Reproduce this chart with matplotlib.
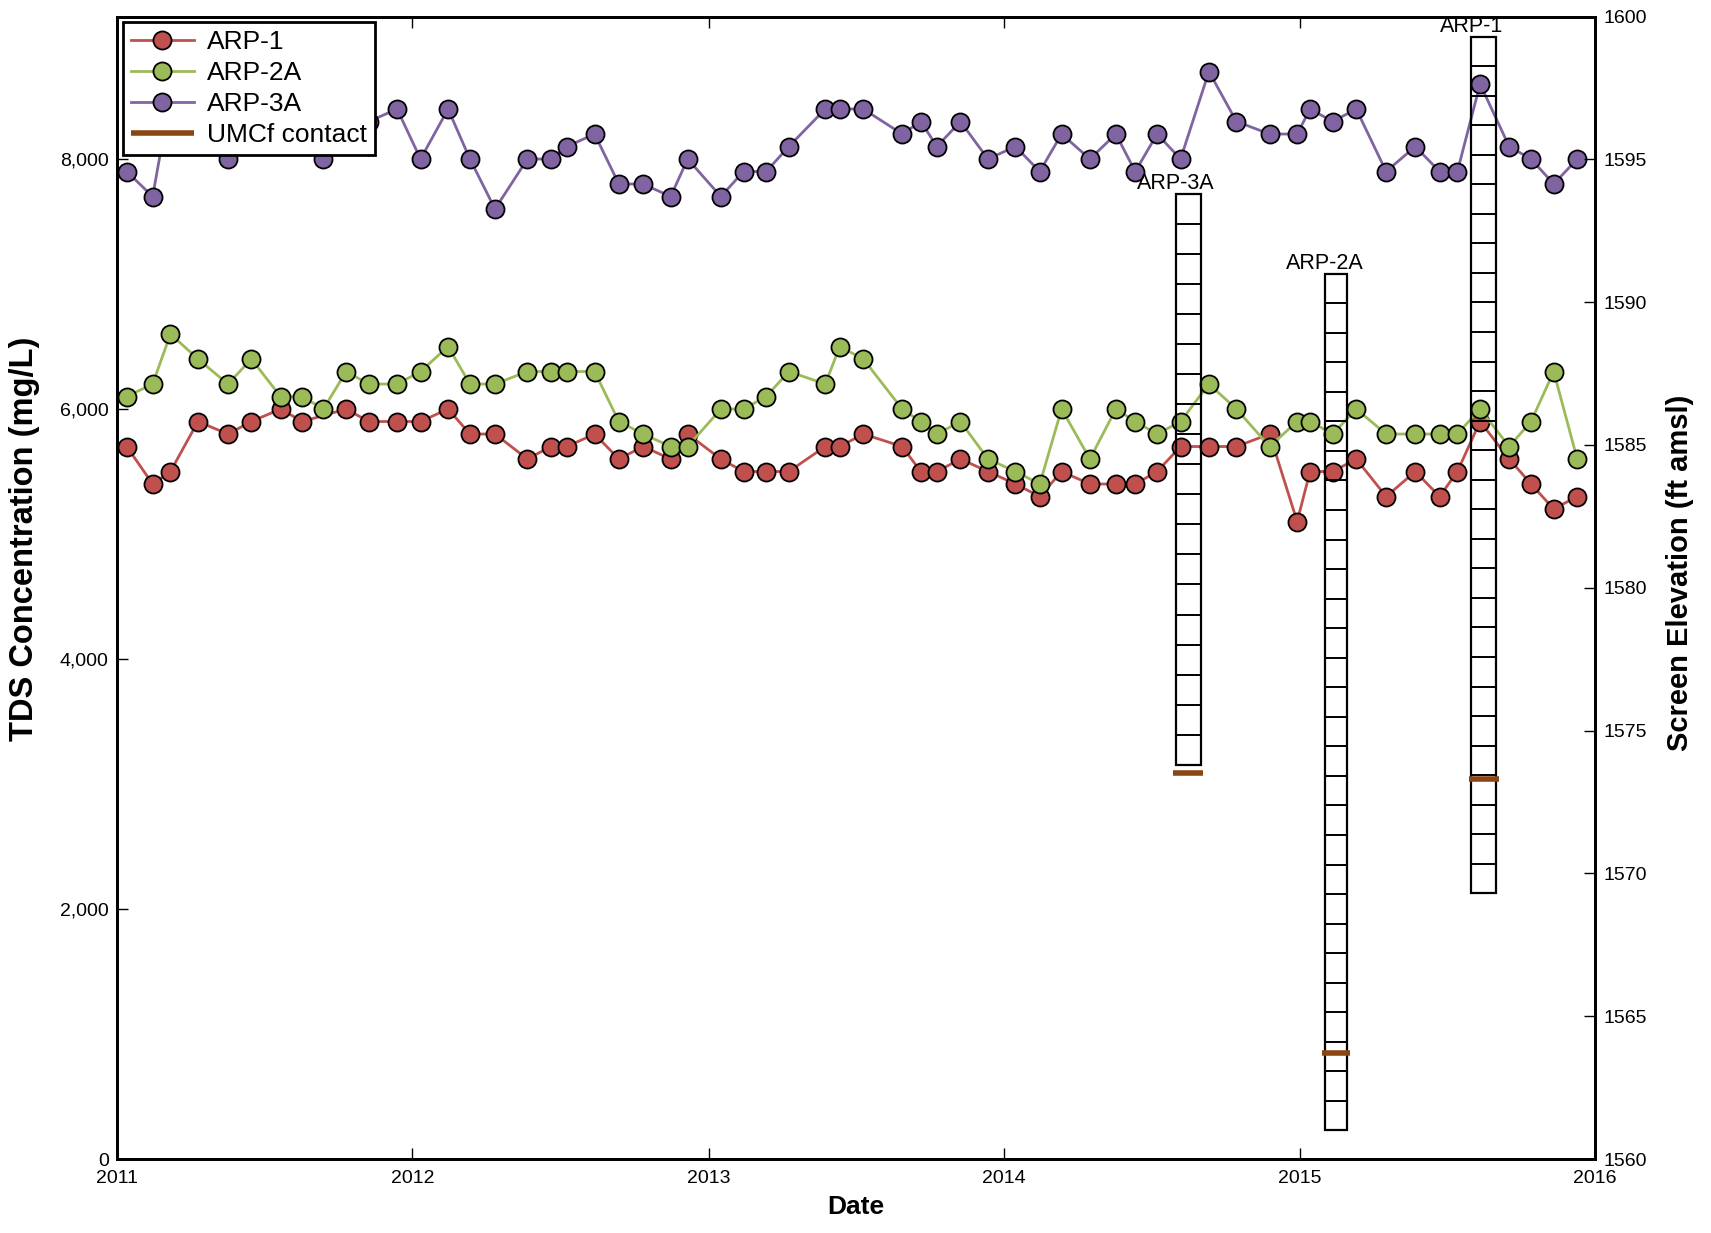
import matplotlib

matplotlib.use("Agg")
import matplotlib.dates as mdates
import matplotlib.pyplot as plt
import numpy as np
import pandas as pd
from matplotlib.patches import Rectangle
from matplotlib.ticker import FuncFormatter, MultipleLocator

plt.rcParams["font.family"] = ["Liberation Sans", "DejaVu Sans"]

# sampling dates (ARP-1 has no Sep 2011 sample)
DATES_ALL = [
    "2011-01-13", "2011-02-14", "2011-03-08", "2011-04-11", "2011-05-18", "2011-06-16",
    "2011-07-22", "2011-08-18", "2011-09-13", "2011-10-11", "2011-11-08", "2011-12-13",
    "2012-01-11", "2012-02-14", "2012-03-12", "2012-04-12", "2012-05-22", "2012-06-20",
    "2012-07-10", "2012-08-13", "2012-09-12", "2012-10-12", "2012-11-15", "2012-12-06",
    "2013-01-16", "2013-02-13", "2013-03-13", "2013-04-10", "2013-05-25", "2013-06-12",
    "2013-07-11", "2013-08-28", "2013-09-20", "2013-10-10", "2013-11-08", "2013-12-12",
    "2014-01-15", "2014-02-14", "2014-03-13", "2014-04-17", "2014-05-19", "2014-06-12",
    "2014-07-09", "2014-08-07", "2014-09-11", "2014-10-15", "2014-11-25", "2014-12-29",
    "2015-01-14", "2015-02-11", "2015-03-12", "2015-04-18", "2015-05-24", "2015-06-23",
    "2015-07-15", "2015-08-12", "2015-09-17", "2015-10-14", "2015-11-11", "2015-12-10",
]
DATES_ARP1 = [d for d in DATES_ALL if d != "2011-09-13"]

ARP1 = [
    5700, 5400, 5500, 5900, 5800, 5900, 6000, 5900, 6000, 5900, 5900,
    5900, 6000, 5800, 5800, 5600, 5700, 5700, 5800, 5600, 5700, 5600, 5800,
    5600, 5500, 5500, 5500, 5700, 5700, 5800, 5700, 5500, 5500, 5600, 5500,
    5400, 5300, 5500, 5400, 5400, 5400, 5500, 5700, 5700, 5700, 5800, 5100,
    5500, 5500, 5600, 5300, 5500, 5300, 5500, 5900, 5600, 5400, 5200, 5300,
]
ARP2A = [
    6100, 6200, 6600, 6400, 6200, 6400, 6100, 6100, 6000, 6300, 6200, 6200,
    6300, 6500, 6200, 6200, 6300, 6300, 6300, 6300, 5900, 5800, 5700, 5700,
    6000, 6000, 6100, 6300, 6200, 6500, 6400, 6000, 5900, 5800, 5900, 5600,
    5500, 5400, 6000, 5600, 6000, 5900, 5800, 5900, 6200, 6000, 5700, 5900,
    5900, 5800, 6000, 5800, 5800, 5800, 5800, 6000, 5700, 5900, 6300, 5600,
]
ARP3A = [
    7900, 7700, 8500, 8300, 8000, 8200, 8400, 8300, 8000, 8200, 8300, 8400,
    8000, 8400, 8000, 7600, 8000, 8000, 8100, 8200, 7800, 7800, 7700, 8000,
    7700, 7900, 7900, 8100, 8400, 8400, 8400, 8200, 8300, 8100, 8300, 8000,
    8100, 7900, 8200, 8000, 8200, 7900, 8200, 8000, 8700, 8300, 8200, 8200,
    8400, 8300, 8400, 7900, 8100, 7900, 7900, 8600, 8100, 8000, 7800, 8000,
]

# well screens (ft amsl)
WELLS = ["ARP-3A", "ARP-2A", "ARP-1"]
SCREEN_START = ["2014-08-01", "2015-02-01", "2015-08-01"]
SCREEN_END = ["2014-09-01", "2015-03-01", "2015-09-01"]
SCREEN_TOP = [1593.8, 1591.0, 1599.3]
SCREEN_BOTTOM = [1573.8, 1561.0, 1569.3]
SCREEN_SEGMENTS = [19, 29, 29]
UMCF_CONTACT = [1573.5, 1563.7, 1573.3]

RED, GREEN, PURPLE, BROWN = "#C0504D", "#9BBB59", "#8064A2", "#8B4513"

fig = plt.figure(figsize=(17.11, 12.33), dpi=100)
ax = fig.add_axes([0.0684, 0.06, 0.8638, 0.9266])
ax2 = ax.twinx()

mk = dict(marker="o", markersize=13, markeredgecolor="black", markeredgewidth=1.3, linewidth=2)
h1, = ax.plot(pd.to_datetime(DATES_ARP1), ARP1, color=RED, markerfacecolor=RED, label="ARP-1", **mk)
h2, = ax.plot(pd.to_datetime(DATES_ALL), ARP2A, color=GREEN, markerfacecolor=GREEN, label="ARP-2A", **mk)
h3, = ax.plot(pd.to_datetime(DATES_ALL), ARP3A, color=PURPLE, markerfacecolor=PURPLE, label="ARP-3A", **mk)

for name, s, e, top, bot, nseg, con in zip(WELLS, SCREEN_START, SCREEN_END, SCREEN_TOP,
                                           SCREEN_BOTTOM, SCREEN_SEGMENTS, UMCF_CONTACT):
    x0 = mdates.date2num(pd.Timestamp(s))
    x1 = mdates.date2num(pd.Timestamp(e))
    ax2.add_patch(Rectangle((x0, bot), x1 - x0, top - bot, fill=False,
                            edgecolor="black", linewidth=1.6, zorder=3))
    ax2.hlines(np.linspace(bot, top, nseg + 1)[1:-1], x0, x1, color="black", linewidth=1.4, zorder=3)
    pad = 3
    hc, = ax2.plot([x0 - pad, x1 + pad], [con, con], color=BROWN, linewidth=4,
                   solid_capstyle="butt", zorder=4, label="UMCf contact")
    # label is centred on the left edge of the screen box
    ax2.annotate(name, (x0, top), xytext=(0, 7.5), textcoords="offset points",
                 ha="center", va="center", fontsize=15.5)

ax.set_xlim(pd.Timestamp("2011-01-01"), pd.Timestamp("2016-01-01"))
ax.set_ylim(0, 9140)
ax2.set_ylim(1560, 1600)

ax.xaxis.set_major_locator(mdates.YearLocator())
ax.xaxis.set_major_formatter(mdates.DateFormatter("%Y"))
ax.yaxis.set_major_locator(MultipleLocator(2000))
ax.yaxis.set_major_formatter(FuncFormatter(lambda v, p: f"{v:,.0f}"))
ax2.yaxis.set_major_locator(MultipleLocator(5))

ax.tick_params(axis="x", direction="in", top=True, length=8, width=1, labelsize=14, pad=8)
ax.tick_params(axis="y", direction="in", right=False, length=8, width=1, labelsize=14, pad=6)
ax2.tick_params(axis="y", direction="in", length=8, width=1, labelsize=14, pad=6)

for a in (ax, ax2):
    for sp in a.spines.values():
        sp.set_linewidth(2)

ax.set_xlabel("Date", fontsize=19, fontweight="bold", labelpad=6)
ax.set_ylabel("TDS Concentration (mg/L)", fontsize=23.5, fontweight="bold")
ax.yaxis.set_label_coords(-0.052, 0.543)
ax2.set_ylabel("Screen Elevation (ft amsl)", fontsize=21, fontweight="bold")
ax2.yaxis.set_label_coords(1.048, 0.513)

leg = ax2.legend([h1, h2, h3, hc], ["ARP-1", "ARP-2A", "ARP-3A", "UMCf contact"],
                 loc="upper left", fontsize=19, frameon=True, fancybox=False, framealpha=1,
                 borderaxespad=0.22, handlelength=2.4, handletextpad=0.5,
                 labelspacing=0.26, borderpad=0.3)
leg.get_frame().set_edgecolor("black")
leg.get_frame().set_linewidth(2)

fig.savefig("out.png", dpi=100)
